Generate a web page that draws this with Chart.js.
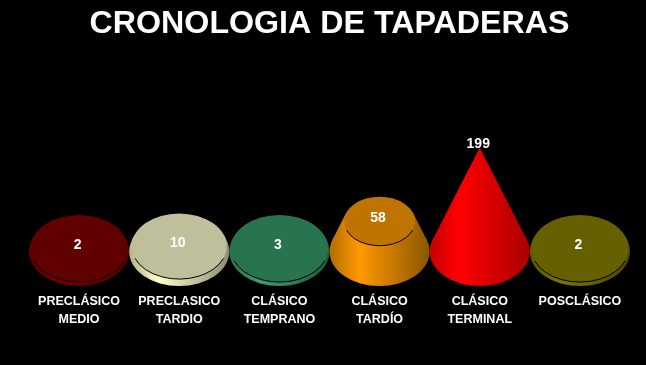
<!DOCTYPE html>
<html>
<head>
<meta charset="utf-8">
<title>Cronologia de tapaderas</title>
<script src="https://cdn.jsdelivr.net/npm/chart.js@4"></script>
<style>
    html, body { margin: 0; padding: 0; background: #000; }
    #wrap { width: 646px; height: 365px; }
</style>
</head>
<body>
<div id="wrap"><canvas id="chart"></canvas></div>
<script>
const categories = [['PRECLÁSICO', 'MEDIO'], ['PRECLASICO', 'TARDIO'], ['CLÁSICO', 'TEMPRANO'], ['CLÁSICO', 'TARDÍO'], ['CLÁSICO', 'TERMINAL'], ['POSCLÁSICO']];
const tapaderas = [2, 10, 3, 58, 199, 2];
const topColors = ['#600000', '#BFBF9B', '#28744F', '#BF7300', '#FF0000', '#666000'];
const sideLight = ['#700000', '#FFFFCC', '#3A9E70', '#FF9900', '#FF0000', '#7A7400'];
const sideDark = ['#500000', '#8C8C70', '#1E5A3C', '#8A5600', '#A80000', '#4C4800'];
const TITLE = 'CRONOLOGIA DE TAPADERAS';

// Draws each bar of the dataset as a cone cut off at its value
const conePlugin = {
    id: 'cones',
    afterDatasetsDraw(chart) {
        const ctx = chart.ctx;
        const yScale = chart.scales.y;
        const full = yScale.getPixelForValue(0) - yScale.getPixelForValue(yScale.max);
        chart.getDatasetMeta(0).data.forEach((bar, i) => {
            const rx = bar.width / 2;
            const ry = rx * 0.69;
            const h = bar.base - bar.y;
            const k = Math.max(1 - h / full, 0);
            const tanY = -ry * ry / full;
            const tanX = rx * Math.sqrt(1 - (ry * ry) / (full * full));

            // starts left of the cone so its left edge stays fairly bright
            const grad = ctx.createLinearGradient(bar.x - rx * 1.3, 0, bar.x + rx, 0);
            grad.addColorStop(0, sideDark[i]);
            grad.addColorStop(0.39, sideLight[i]);
            grad.addColorStop(1, sideDark[i]);

            ctx.save();
            ctx.fillStyle = grad;
            ctx.beginPath();
            ctx.ellipse(bar.x, bar.base, rx, ry, 0, 0, Math.PI * 2);
            ctx.fill();
            ctx.beginPath();
            ctx.moveTo(bar.x - tanX, bar.base + tanY);
            ctx.lineTo(bar.x - tanX * k, bar.y + tanY * k);
            ctx.lineTo(bar.x + tanX * k, bar.y + tanY * k);
            ctx.lineTo(bar.x + tanX, bar.base + tanY);
            ctx.closePath();
            ctx.fill();

            if (k > 0) {
                ctx.fillStyle = topColors[i];
                ctx.beginPath();
                ctx.ellipse(bar.x, bar.y, rx * k, ry * k, 0, 0, Math.PI * 2);
                ctx.fill();
                // only the front edge of the lid has the dark line
                ctx.strokeStyle = '#000';
                ctx.lineWidth = 1;
                ctx.beginPath();
                ctx.ellipse(bar.x, bar.y, rx * k, ry * k, 0, Math.PI * 0.12, Math.PI * 0.88);
                ctx.stroke();
            }

            ctx.fillStyle = '#fff';
            ctx.font = 'bold 14px "Liberation Sans"';
            ctx.textAlign = 'center';
            ctx.textBaseline = 'middle';
            ctx.fillText(String(tapaderas[i]), bar.x - 1.5, bar.y - 3.5);
            ctx.restore();
        });
    }
};

new Chart(document.getElementById('chart').getContext('2d'), {
    type: 'bar',
    data: {
        labels: categories,
        datasets: [{
            label: 'Tapaderas',
            data: tapaderas,
            backgroundColor: 'rgba(0,0,0,0)',
            categoryPercentage: 1,
            barPercentage: 1,
            minBarLength: 3
        }]
    },
    options: {
        responsive: true,
        maintainAspectRatio: false,
        animation: false,
        layout: { padding: { left: 29, right: 16, top: 0, bottom: 0 } },
        plugins: {
            legend: { display: false },
            tooltip: { enabled: false },
            title: {
                display: true,
                text: TITLE,
                fullSize: false,
                color: '#fff',
                font: { family: '"Liberation Sans"', size: 32.2, weight: 'bold' },
                padding: { top: 5, bottom: 104 }
            }
        },
        scales: {
            x: {
                grid: { display: false },
                border: { display: false },
                // cones run the full plot width, labels need no side margin
                afterFit(scale) {
                    scale.paddingLeft = 0;
                    scale.paddingRight = 0;
                    scale.height = 113.5;
                },
                ticks: {
                    color: '#fff',
                    autoSkip: false,
                    maxRotation: 0,
                    padding: 33.5,
                    font: { family: '"Liberation Sans"', size: 12.5, weight: 'bold', lineHeight: 1.4 }
                }
            },
            y: { display: false, min: 0, max: 199 }
        }
    },
    plugins: [conePlugin]
});
</script>
</body>
</html>
